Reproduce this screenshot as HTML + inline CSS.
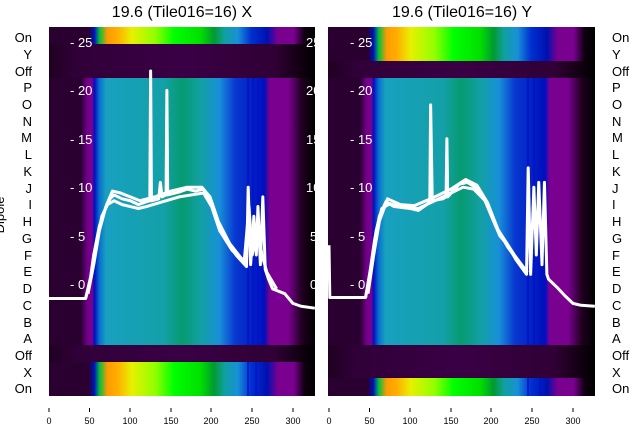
<!DOCTYPE html>
<html><head><meta charset="utf-8"><style>
html,body{margin:0;padding:0;background:#fff;}
svg{display:block;font-family:"Liberation Sans","DejaVu Sans",sans-serif;}
</style></head><body>
<svg width="640" height="440" viewBox="0 0 640 440" xmlns="http://www.w3.org/2000/svg">
<defs>
<linearGradient id="teal" x1="0" x2="1" y1="0" y2="0">
<stop offset="0" stop-color="#2a0030"/><stop offset=".12" stop-color="#2a0030"/>
<stop offset=".144" stop-color="#700088"/><stop offset=".162" stop-color="#7a0090"/>
<stop offset=".171" stop-color="#0010c0"/><stop offset=".19" stop-color="#0a70d0"/>
<stop offset=".214" stop-color="#18a0c0"/><stop offset=".43" stop-color="#14a0a8"/>
<stop offset=".50" stop-color="#069a70"/><stop offset=".57" stop-color="#12a0a4"/>
<stop offset=".64" stop-color="#1890d8"/><stop offset=".70" stop-color="#0838d0"/>
<stop offset=".81" stop-color="#0010b8"/><stop offset=".83" stop-color="#7a0090"/>
<stop offset=".90" stop-color="#7a0090"/><stop offset=".95" stop-color="#200020"/>
<stop offset="1" stop-color="#000"/>
</linearGradient>
<linearGradient id="spec" x1="0" x2="1" y1="0" y2="0">
<stop offset="0" stop-color="#2a0030"/><stop offset=".15" stop-color="#2a0030"/>
<stop offset=".17" stop-color="#0010c0"/><stop offset=".19" stop-color="#00c040"/>
<stop offset=".22" stop-color="#ff9a00"/><stop offset=".26" stop-color="#ffb000"/>
<stop offset=".31" stop-color="#e8f000"/><stop offset=".40" stop-color="#90ff00"/>
<stop offset=".47" stop-color="#00ff00"/><stop offset=".57" stop-color="#00e000"/>
<stop offset=".62" stop-color="#009a30"/><stop offset=".66" stop-color="#10a0a0"/>
<stop offset=".71" stop-color="#1890d8"/><stop offset=".76" stop-color="#0030d0"/>
<stop offset=".82" stop-color="#0010b0"/><stop offset=".86" stop-color="#7a0090"/>
<stop offset=".92" stop-color="#7a0090"/><stop offset=".96" stop-color="#100010"/>
<stop offset="1" stop-color="#000"/>
</linearGradient>
<linearGradient id="dark" x1="0" x2="1" y1="0" y2="0">
<stop offset="0" stop-color="#200020"/><stop offset=".1" stop-color="#300038"/>
<stop offset=".5" stop-color="#3a0045"/><stop offset=".85" stop-color="#300035"/>
<stop offset=".95" stop-color="#100010"/><stop offset="1" stop-color="#000"/>
</linearGradient>
</defs>

<text x="182" y="17" font-size="16" text-anchor="middle" fill="#000">19.6 (Tile016=16) X</text>
<text x="462" y="17" font-size="16" text-anchor="middle" fill="#000">19.6 (Tile016=16) Y</text>

<!-- Left panel -->
<g>
<rect x="49" y="27" width="266" height="17" fill="url(#spec)"/>
<rect x="49" y="44" width="266" height="34" fill="url(#dark)"/>
<rect x="49" y="78" width="266" height="267" fill="url(#teal)"/>
<rect x="49" y="345" width="266" height="17" fill="url(#dark)"/>
<rect x="49" y="362" width="266" height="34" fill="url(#spec)"/>
<g stroke="#0010d0" stroke-width="1.5">
<line x1="248" y1="78" x2="248" y2="345"/><line x1="253" y1="78" x2="253" y2="345"/>
<line x1="258" y1="78" x2="258" y2="345"/><line x1="262" y1="78" x2="262" y2="345"/>
<line x1="248" y1="362" x2="248" y2="396"/><line x1="256" y1="362" x2="256" y2="396"/>
</g>
<g fill="#fff" font-size="13">
<text x="70" y="47">- 25</text><text x="70" y="95">- 20</text><text x="70" y="144">- 15</text>
<text x="70" y="192">- 10</text><text x="70" y="241">- 5</text><text x="70" y="289">- 0</text>
<text x="306" y="47">25</text><text x="306" y="95">20</text><text x="306" y="144">15</text>
<text x="306" y="192">10</text><text x="310" y="241">5</text><text x="310" y="289">0</text>
</g>
<g transform="translate(49,284) scale(0.813,-9.68)" fill="none" stroke="#fff" stroke-width="3" stroke-linejoin="round">
<path vector-effect="non-scaling-stroke" d="M0,-1.5 L45,-1.5 L50,0 L55,3 L62,6 L68,7.5 L75,8.8 L80,9.2 L90,8.8 L100,8.6 L110,8.2 L120,8.5 L124,8.6 L125,22 L126,8.6 L135,8.8 L137,10.5 L139,9 L144,9.2 L145,20 L146,9.2 L160,9.5 L170,9.8 L180,9.6 L190,9.8 L200,8.5 L210,6 L220,4.5 L230,3 L243,1.8 L245,10 L248,2 L252,7 L255,3 L257,8 L260,2 L263,9 L266,1.5 L270,0.5 L275,-0.5 L290,-1 L300,-2 L310,-2.3 L327,-2.5"/>
<path vector-effect="non-scaling-stroke" d="M45,-1.5 L52,1 L58,4 L65,7 L72,8.2 L80,8.6 L90,8.2 L100,8 L110,7.8 L120,8 L140,8.5 L160,9 L175,9.2 L190,9.4 L200,8 L210,5.5 L225,3.5 L240,2.2 L246,8 L250,3 L256,6 L262,3 L268,1.2 L280,-0.5"/>
<path vector-effect="non-scaling-stroke" d="M48,-1 L55,2 L62,5.5 L70,8 L78,9.6 L88,9.4 L100,9 L112,8.6 L130,9 L150,9.6 L170,10 L188,10 L198,9 L208,6.5 L222,4.2 L238,2.5 L244,3"/>
</g>
</g>

<!-- Right panel -->
<g>
<rect x="328" y="27" width="267" height="34" fill="url(#spec)"/>
<rect x="328" y="61" width="267" height="17" fill="url(#dark)"/>
<rect x="328" y="78" width="267" height="267" fill="url(#teal)"/>
<rect x="328" y="345" width="267" height="33" fill="url(#dark)"/>
<rect x="328" y="378" width="267" height="18" fill="url(#spec)"/>
<g stroke="#0010d0" stroke-width="1.5">
<line x1="528" y1="78" x2="528" y2="345"/><line x1="534" y1="78" x2="534" y2="345"/>
<line x1="540" y1="78" x2="540" y2="345"/><line x1="546" y1="78" x2="546" y2="345"/>
<line x1="528" y1="378" x2="528" y2="396"/><line x1="540" y1="378" x2="540" y2="396"/>
</g>
<g fill="#fff" font-size="13">
<text x="350" y="47">- 25</text><text x="350" y="95">- 20</text><text x="350" y="144">- 15</text>
<text x="350" y="192">- 10</text><text x="350" y="241">- 5</text><text x="350" y="289">- 0</text>
</g>
<g transform="translate(329,284) scale(0.813,-9.68)" fill="none" stroke="#fff" stroke-width="3" stroke-linejoin="round">
<path vector-effect="non-scaling-stroke" d="M0,4 L1,-1.4 L45,-1.4 L50,1 L56,4.5 L62,7 L70,8.5 L80,8 L100,7.8 L110,7.6 L120,8.2 L124,8.5 L125,18.5 L127,8.6 L140,8.8 L144,9 L145,15 L146,9 L160,10.3 L170,10.5 L180,10 L190,9 L200,7 L210,5 L220,4 L230,2.5 L243,1 L245,12 L248,1 L252,10 L255,3 L258,10.5 L262,2 L265,10.5 L268,1 L270,0.5 L280,-0.3 L290,-1.2 L300,-2 L310,-2.2 L327,-2.3"/>
<path vector-effect="non-scaling-stroke" d="M45,-1.4 L52,2 L58,5.5 L65,7.8 L75,8.3 L90,7.9 L110,7.8 L130,8.6 L150,9.4 L165,10 L178,9.8 L192,8.6 L205,6 L220,3.8 L240,1.5"/>
<path vector-effect="non-scaling-stroke" d="M48,-1 L55,3 L62,6.5 L72,8.8 L88,8.2 L105,8.1 L125,8.8 L150,9.8 L168,10.8 L182,10.2 L195,8.4 L208,5.6 L228,3 L244,1.2"/>
</g>
</g>

<g font-size="13" fill="#000" text-anchor="end">
<text x="32" y="42">On</text><text x="32" y="59">Y</text><text x="32" y="76">Off</text>
<text x="32" y="92">P</text><text x="32" y="109">O</text><text x="32" y="126">N</text>
<text x="32" y="142">M</text><text x="32" y="159">L</text><text x="32" y="176">K</text>
<text x="32" y="193">J</text><text x="32" y="209">I</text><text x="32" y="226">H</text>
<text x="32" y="243">G</text><text x="32" y="260">F</text><text x="32" y="276">E</text>
<text x="32" y="293">D</text><text x="32" y="310">C</text><text x="32" y="327">B</text>
<text x="32" y="343">A</text><text x="32" y="360">Off</text><text x="32" y="377">X</text>
<text x="32" y="393">On</text>
</g>
<text transform="translate(4,215) rotate(-90)" font-size="13" text-anchor="middle" fill="#000">Dipole</text>

<g font-size="13" fill="#000">
<text x="612" y="42">On</text><text x="612" y="59">Y</text><text x="612" y="76">Off</text>
<text x="612" y="92">P</text><text x="612" y="109">O</text><text x="612" y="126">N</text>
<text x="612" y="142">M</text><text x="612" y="159">L</text><text x="612" y="176">K</text>
<text x="612" y="193">J</text><text x="612" y="209">I</text><text x="612" y="226">H</text>
<text x="612" y="243">G</text><text x="612" y="260">F</text><text x="612" y="276">E</text>
<text x="612" y="293">D</text><text x="612" y="310">C</text><text x="612" y="327">B</text>
<text x="612" y="343">A</text><text x="612" y="360">Off</text><text x="612" y="377">X</text>
<text x="612" y="393">On</text>
</g>

<g stroke="#000" stroke-width="1">
<line x1="49" y1="408" x2="49" y2="412"/><line x1="89.5" y1="408" x2="89.5" y2="412"/>
<line x1="130" y1="408" x2="130" y2="412"/><line x1="171" y1="408" x2="171" y2="412"/>
<line x1="211" y1="408" x2="211" y2="412"/><line x1="252" y1="408" x2="252" y2="412"/>
<line x1="293" y1="408" x2="293" y2="412"/>
<line x1="329" y1="408" x2="329" y2="412"/><line x1="369.5" y1="408" x2="369.5" y2="412"/>
<line x1="410" y1="408" x2="410" y2="412"/><line x1="451" y1="408" x2="451" y2="412"/>
<line x1="491" y1="408" x2="491" y2="412"/><line x1="532" y1="408" x2="532" y2="412"/>
<line x1="573" y1="408" x2="573" y2="412"/>
</g>
<g font-size="9" fill="#000" text-anchor="middle">
<text x="49" y="424">0</text><text x="89.5" y="424">50</text><text x="130" y="424">100</text>
<text x="171" y="424">150</text><text x="211" y="424">200</text><text x="252" y="424">250</text>
<text x="293" y="424">300</text>
<text x="329" y="424">0</text><text x="369.5" y="424">50</text><text x="410" y="424">100</text>
<text x="451" y="424">150</text><text x="491" y="424">200</text><text x="532" y="424">250</text>
<text x="573" y="424">300</text>
</g>
</svg>
</body></html>
